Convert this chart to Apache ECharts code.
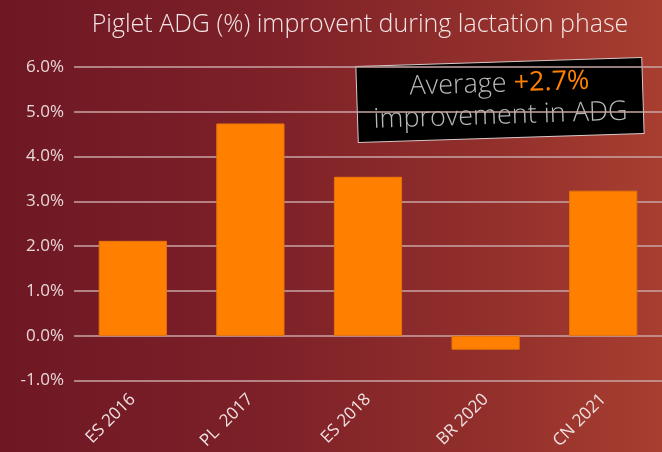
<!DOCTYPE html>
<html><head><meta charset="utf-8">
<script src="https://cdn.jsdelivr.net/npm/echarts@6/dist/echarts.min.js"></script>
<style>html,body{margin:0;padding:0;}#c{width:662px;height:452px;background:linear-gradient(90deg,#6e1824 0%,#7d2028 40%,#93302c 75%,#a83e30 100%);}</style>
</head><body><div id="c"></div>
<script>
var categories = ['ES 2016', 'PL  2017', 'ES 2018', 'BR 2020', 'CN 2021'];
var values = [2.12, 4.74, 3.55, -0.31, 3.24];
var yTicks = [-1, 0, 1, 2, 3, 4, 5, 6];
var titleText = 'Piglet ADG (%) improvent during lactation phase';
var noteAverage = '+2.7%';

var chart = echarts.init(document.getElementById('c'), null, {renderer: 'canvas'});
chart.setOption({
  backgroundColor: 'transparent',
  animation: false,
  title: {
    text: titleText, left: 355, top: 7, textAlign: 'center',
    textStyle: {color: '#f3e6e6', fontFamily: 'Open Sans', fontWeight: 300, fontSize: 25}
  },
  grid: {left: 74, right: -2, top: 67, bottom: 71, containLabel: false},
  xAxis: {
    type: 'category', data: categories,
    axisLine: {show: false}, axisTick: {show: false},
    axisLabel: {rotate: 45, color: '#f0e2e2', fontFamily: 'Open Sans', fontSize: 17, margin: 16, interval: 0}
  },
  yAxis: {
    type: 'value', min: -1, max: 6, interval: 1,
    axisLine: {show: false}, axisTick: {show: false},
    axisLabel: {color: '#e8d8d8', fontFamily: 'Open Sans', fontSize: 17, margin: 10,
      formatter: function (v) { return v.toFixed(1) + '%'; }},
    splitLine: {lineStyle: {color: '#c8a4a4', width: 1.5}}
  },
  series: [{
    type: 'bar', data: values, barWidth: '58%',
    itemStyle: {color: '#ff8000', borderColor: '#e8730a', borderWidth: 1}
  }],
  graphic: [{
    type: 'group', x: 500, y: 100, rotation: 0.032,
    children: [{
      type: 'rect', shape: {x: -143, y: -38, width: 286, height: 76},
      style: {fill: '#000', stroke: '#d8c8c8', lineWidth: 1}
    }, {
      type: 'text', x: 0, y: -16,
      style: {
        text: '{a|Average }{b|' + noteAverage + '}', align: 'center', verticalAlign: 'middle',
        rich: {
          a: {fill: '#b8b8b8', fontFamily: 'Open Sans', fontWeight: 300, fontSize: 27},
          b: {fill: '#ff8000', fontFamily: 'Open Sans', fontWeight: 400, fontSize: 27}
        }
      }
    }, {
      type: 'text', x: 0, y: 16,
      style: {text: 'improvement in ADG', align: 'center', verticalAlign: 'middle',
        fill: '#b8b8b8', fontFamily: 'Open Sans', fontWeight: 300, fontSize: 27}
    }]
  }]
});
</script></body></html>
